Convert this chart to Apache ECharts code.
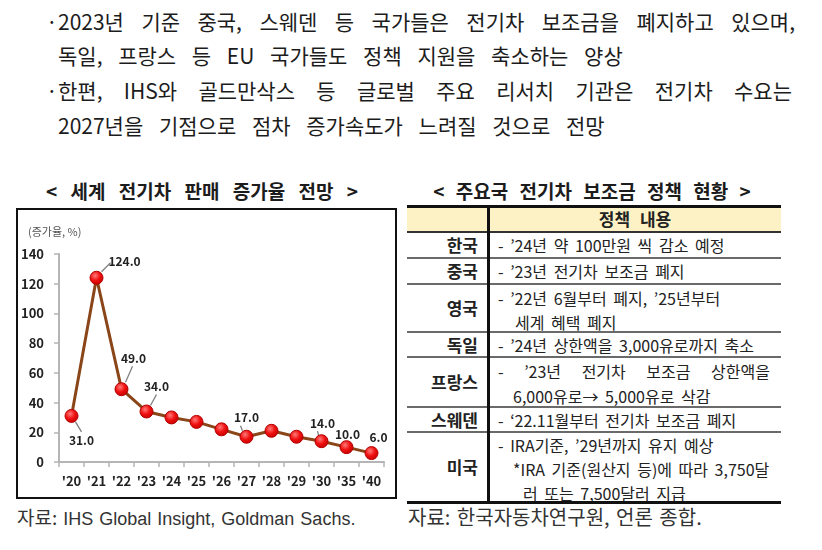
<!DOCTYPE html>
<html>
<head>
<meta charset="utf-8">
<script src="https://cdn.jsdelivr.net/npm/echarts@6.0.0/dist/echarts.min.js"></script>
<style>
html,body{margin:0;padding:0;background:#fff;}
#page{position:relative;width:822px;height:550px;overflow:hidden;font-family:"Noto Sans CJK KR","Noto Sans",sans-serif;color:#1c1c1c;}
.t{position:absolute;white-space:nowrap;}
.para{font-size:21px;line-height:24px;word-spacing:11px;}
.just{text-align:justify;text-align-last:justify;}
.cap{font-size:19px;line-height:22px;font-weight:bold;text-align:center;}
.src{font-size:18px;line-height:20px;color:#333;}
.cell{font-size:16px;line-height:20px;word-spacing:3px;color:#222;}
.nation{font-size:17px;line-height:20px;font-weight:bold;text-align:right;color:#222;}
.hr{position:absolute;left:407px;width:374px;}
#lineContainer{position:absolute;left:16px;top:208px;width:381px;height:291px;border:2px solid #111;box-sizing:border-box;}
#err{position:absolute;left:0;top:530px;font-size:11px;color:red;}
</style>
</head>
<body>
<div id="page">
  <!-- 본문 -->
  <div class="t para" style="left:46px;top:9px;">·</div>
  <div class="t para just" style="left:58px;top:9px;width:737px;">2023년 기준 중국, 스웨덴 등 국가들은 전기차 보조금을 폐지하고 있으며,</div>
  <div class="t para" style="left:58px;top:43px;">독일, 프랑스 등 EU 국가들도 정책 지원을 축소하는 양상</div>
  <div class="t para" style="left:46px;top:78px;">·</div>
  <div class="t para just" style="left:58px;top:78px;width:734px;">한편, IHS와 골드만삭스 등 글로벌 주요 리서치 기관은 전기차 수요는</div>
  <div class="t para" style="left:58px;top:113px;">2027년을 기점으로 점차 증가속도가 느려질 것으로 전망</div>

  <!-- 제목 -->
  <div class="t cap" style="left:22px;top:180px;width:360px;word-spacing:9px;">&lt; 세계 전기차 판매 증가율 전망 &gt;</div>
  <div class="t cap" style="left:412px;top:180px;width:360px;word-spacing:7px;">&lt; 주요국 전기차 보조금 정책 현황 &gt;</div>

  <!-- 차트 -->
  <div id="lineContainer"></div>
  <div class="t src" style="left:17px;top:507px;font-family:'Liberation Sans','Noto Sans CJK KR',sans-serif;word-spacing:1px;"><span style="font-family:'Noto Sans CJK KR';font-size:19px;">자료:</span> IHS Global Insight, Goldman Sachs.</div>

  <!-- 표 -->
  <div id="policyTable"></div>
  <div class="t src" style="left:408px;top:507px;font-size:20px;word-spacing:2px;">자료: 한국자동차연구원, 언론 종합.</div>
  <div id="err"></div>
</div>

<script>
// 세계 전기차 판매 증가율 (%)
var years = ["'20", "'21", "'22", "'23", "'24", "'25", "'26", "'27", "'28", "'29", "'30", "'35", "'40"];
var growth = [31, 124, 49, 34, 30, 27, 22, 17, 21, 17, 14, 10, 6];
var labeledYears = ["'20", "'21", "'22", "'23", "'27", "'30", "'35", "'40"];
var yTicks = [0, 20, 40, 60, 80, 100, 120, 140];

// 주요국 보조금 정책
var nations = ['한국', '중국', '영국', '독일', '프랑스', '스웨덴', '미국'];
var policies = [
  ['- ’24년 약 100만원 씩 감소 예정'],
  ['- ’23년 전기차 보조금 폐지'],
  ['- ’22년 6월부터 폐지, ’25년부터', '세계 혜택 폐지'],
  ['- ’24년 상한액을 3,000유로까지 축소'],
  ['- ’23년 전기차 보조금 상한액을', '6,000유로→ 5,000유로 삭감'],
  ['- ‘22.11월부터 전기차 보조금 폐지'],
  ['- IRA기준, ’29년까지 유지 예상', '*IRA 기준(원산지 등)에 따라 3,750달', '러 또는 7,500달러 지급']
];
var headerText = '정책 내용';

//표 그리기
(function(){
  var box = document.getElementById('policyTable');
  var html = '';
  var rowTop = [232, 258, 284, 332, 357, 407, 432];
  var rowBottom = [258, 284, 332, 357, 407, 432, 502];
  // 각 행 안의 줄 위치
  var lineY = [[245], [271], [298, 322], [345], [371, 396], [420], [445, 469, 493]];
  var lineX = [[498], [498], [498, 515], [498], [498, 513], [498], [498, 513, 523]];

  html += '<div class="hr" style="top:207px;height:25px;background:#fdf2c6;"></div>';
  html += '<div class="hr" style="top:205px;height:3px;background:#111;"></div>';
  html += '<div class="hr" style="top:231px;height:2px;background:#333;"></div>';
  html += '<div class="t" style="left:489px;width:292px;top:208px;font-size:17px;line-height:22px;font-weight:bold;text-align:center;word-spacing:6px;color:#222;">' + headerText + '</div>';

  for (var i = 0; i < nations.length; i++) {
    if (i > 0) {
      html += '<div class="hr" style="top:' + (rowTop[i] - 1) + 'px;height:2px;background:#6a6a6a;"></div>';
    }
    var cy = (rowTop[i] + rowBottom[i]) / 2;
    html += '<div class="t nation" style="left:407px;width:71px;top:' + (cy - 10) + 'px;">' + nations[i] + '</div>';
    for (var j = 0; j < policies[i].length; j++) {
      var cls = 't cell';
      var extra = '';
      if (i == 4 && j == 0) {
        cls += ' just';
        extra = 'width:272px;';
      }
      html += '<div class="' + cls + '" style="left:' + lineX[i][j] + 'px;top:' + (lineY[i][j] - 10) + 'px;' + extra + '">' + policies[i][j] + '</div>';
    }
  }
  html += '<div class="hr" style="top:501px;height:3px;background:#111;"></div>';
  html += '<div class="t" style="left:487px;top:206px;width:3px;height:297px;background:#111;"></div>';
  box.innerHTML = html;
})();

//꺾은선 그래프
var lineChart = echarts.init(document.getElementById('lineContainer'));

// 라벨 이동 (점 중심 기준) / 지시선 [시작, 끝]
var labelShift = {0: [10, 24], 1: [28, -16], 2: [12, -31], 3: [10, -25], 7: [0, -19], 10: [1, -18], 11: [1, -13], 12: [7, -16]};
var guideLine = [
  [0, 4, 6, 10, 16],
  [1, 5, -6, 14, -15],
  [2, 4, -7, 11, -23],
  [3, 4, -6, 10, -17],
  [7, -4, -6, -6, -11],
  [10, -3, -6, -4, -10]
];

var seriesData = [];
for (var k = 0; k < growth.length; k++) {
  seriesData.push({
    value: growth[k],
    label: {show: labeledYears.indexOf(years[k]) >= 0}
  });
}

var option = {
  animation: false,
  title: {
    text: '(증가율, %)',
    left: 5,
    top: 11,
    textStyle: {fontSize: 11, fontWeight: 'normal', color: '#555', fontFamily: 'Noto Sans CJK KR'}
  },
  grid: {left: 40, right: 11, top: 44, bottom: 35},
  xAxis: {
    type: 'category',
    data: years,
    boundaryGap: true,
    axisLine: {lineStyle: {color: '#b5b5b5', width: 2}},
    axisTick: {show: true, length: 5, lineStyle: {color: '#b5b5b5', width: 1.5}},
    axisLabel: {interval: 0, margin: 13, fontSize: 13, fontWeight: 'bold', color: '#222', fontFamily: 'Noto Sans CJK KR'}
  },
  yAxis: {
    type: 'value',
    min: yTicks[0],
    max: yTicks[yTicks.length - 1],
    interval: 20,
    axisLine: {show: true, lineStyle: {color: '#b5b5b5', width: 2}},
    axisTick: {show: true, length: 5, lineStyle: {color: '#b5b5b5', width: 1.5}},
    splitLine: {show: false},
    axisLabel: {margin: 15, fontSize: 13, fontWeight: 'bold', color: '#222', fontFamily: 'Noto Sans CJK KR'}
  },
  series: [
    {
      name: '증가율',
      type: 'line',
      data: seriesData,
      z: 3,
      symbol: 'circle',
      symbolSize: 13,
      lineStyle: {color: '#8a4519', width: 3},
      itemStyle: {
        color: {
          type: 'radial', x: 0.4, y: 0.35, r: 0.7,
          colorStops: [{offset: 0, color: '#ff7a7a'}, {offset: 0.5, color: '#f01010'}, {offset: 1, color: '#c00000'}]
        },
        borderColor: '#b30000',
        borderWidth: 1
      },
      label: {
        show: false,
        position: 'inside',
        formatter: function (p) { return p.value.toFixed(1); },
        fontSize: 12,
        fontWeight: 'bold',
        color: '#222',
        fontFamily: 'Noto Sans CJK KR'
      },
      labelLayout: function (params) {
        var s = labelShift[params.dataIndex];
        if (!s) return {};
        var r = params.rect;
        return {
          x: r.x + r.width / 2 + s[0],
          y: r.y + r.height / 2 + s[1],
          align: 'center',
          verticalAlign: 'middle'
        };
      }
    }
  ]
};
lineChart.setOption(option);

// 라벨 지시선 (축 좌표 -> 픽셀)
try {
  var guides = [];
  for (var m = 0; m < guideLine.length; m++) {
    var gl = guideLine[m];
    var pt = lineChart.convertToPixel({gridIndex: 0}, [gl[0], growth[gl[0]]]);
    guides.push({
      type: 'line',
      silent: true,
      z: 100,
      shape: {x1: pt[0] + gl[1], y1: pt[1] + gl[2], x2: pt[0] + gl[3], y2: pt[1] + gl[4]},
      style: {stroke: '#7f7f7f', lineWidth: 1.3}
    });
  }
  lineChart.setOption({graphic: {elements: guides}});
} catch (e) {
  document.getElementById('err').innerText = 'ERR ' + e.message;
}
</script>
</body>
</html>
